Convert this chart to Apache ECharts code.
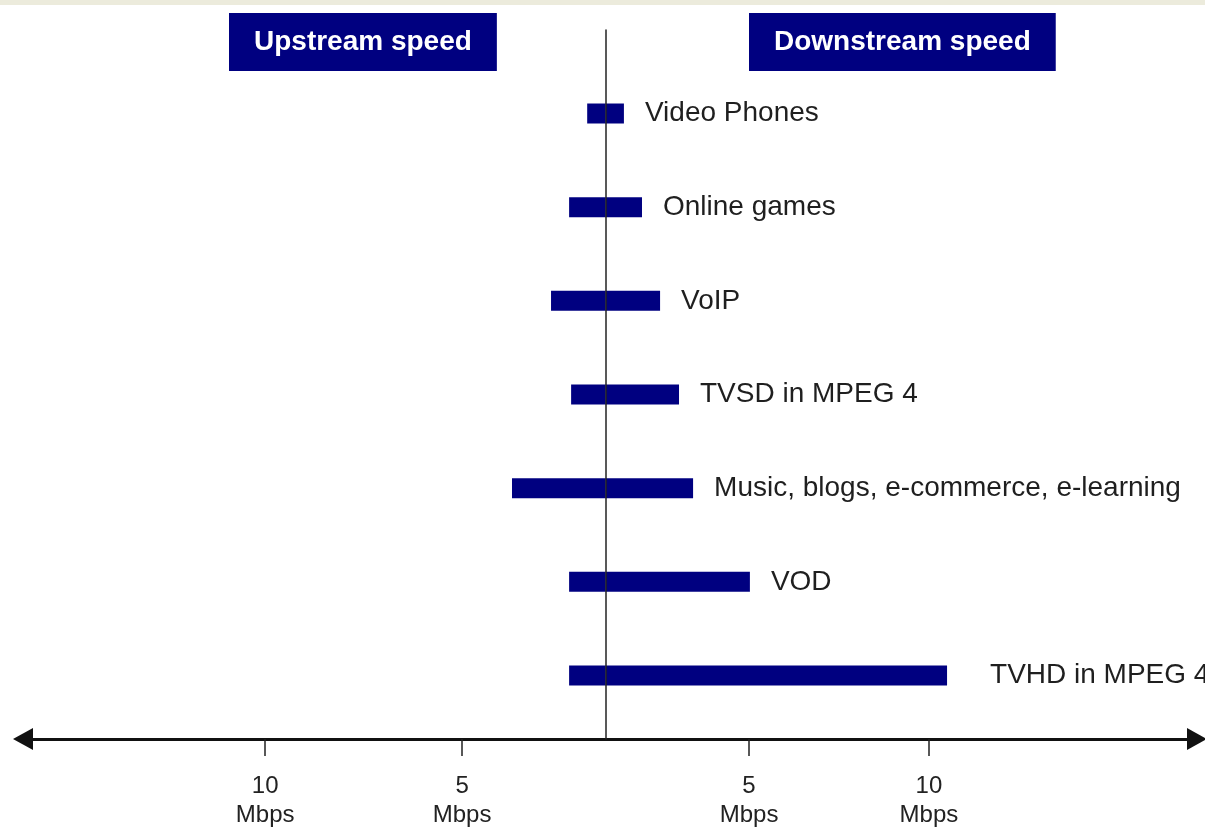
<!DOCTYPE html>
<html>
<head>
<meta charset="utf-8">
<title>Upstream / downstream speed</title>
<script src="https://cdn.jsdelivr.net/npm/echarts@6/dist/echarts.min.js"></script>
<style>
  html, body { margin: 0; padding: 0; background: #fff; }
  #main { width: 1205px; height: 830px; }
</style>
</head>
<body>
<div id="main"></div>
<script>
  // services, top to bottom
  var services = ['Video Phones', 'Online games', 'VoIP', 'TVSD in MPEG 4',
    'Music, blogs, e-commerce, e-learning', 'VOD', 'TVHD in MPEG 4'];

  // upstream to the left (negative), downstream to the right, in the drawing's axis units
  var upstream = [-0.64, -1.27, -1.90, -1.20, -3.26, -1.27, -1.27];
  var downstream = [0.64, 1.27, 1.90, 2.56, 3.05, 5.03, 11.9];

  // tick marks of the drawing (it is not a linear scale) and their labels
  var tickValues = [-11.86, -5, 5, 11.27];
  var tickLabels = ['10', '5', '5', '10'];

  var axisMin = -20.3;
  var axisMax = 20.61;

  var font = 'Liberation Sans, Arial, sans-serif';
  var navy = '#000080';

  var chart = echarts.init(document.getElementById('main'), null, { renderer: 'canvas' });

  var option = {
    animation: false,
    backgroundColor: '#fff',
    graphic: [
      // the textured strip at the very top of the slide
      { type: 'rect', left: 0, top: 0, shape: { width: 1205, height: 5 }, style: { fill: '#ecebdc' } }
    ],
    title: [
      {
        text: 'Upstream speed', left: 229, top: 13,
        backgroundColor: navy, padding: [15, 25],
        textStyle: { color: '#fff', fontSize: 28, fontWeight: 'bold', fontFamily: font, lineHeight: 28 }
      },
      {
        text: 'Downstream speed', left: 749, top: 13,
        backgroundColor: navy, padding: [15, 25],
        textStyle: { color: '#fff', fontSize: 28, fontWeight: 'bold', fontFamily: font, lineHeight: 28 }
      }
    ],
    grid: [
      // bars
      { left: 23, right: 8, top: 66.67, bottom: 107.67 },
      // frame: arrow axis + centre line
      { left: 23, right: 8, top: 30, bottom: 91 }
    ],
    xAxis: [
      { gridIndex: 0, type: 'value', min: axisMin, max: axisMax, show: false },
      {
        gridIndex: 1, type: 'value', min: axisMin, max: axisMax,
        splitLine: { show: false },
        axisLine: {
          show: true, onZero: false,
          symbol: ['triangle', 'triangle'], symbolSize: [22, 20],
          lineStyle: { color: '#111', width: 3 }
        },
        axisTick: { show: true, customValues: tickValues, length: 17, lineStyle: { color: '#222', width: 1.5 } },
        axisLabel: {
          customValues: tickValues, margin: 33,
          color: '#222', fontSize: 24, lineHeight: 29, fontFamily: font, align: 'center',
          formatter: function (v) {
            var i = tickValues.indexOf(v);
            return (i < 0 ? '' : tickLabels[i]) + '\nMbps';
          }
        }
      }
    ],
    yAxis: [
      { gridIndex: 0, type: 'category', inverse: true, data: services, show: false },
      {
        // centre line, drawn over the bars
        gridIndex: 1, type: 'value', min: 0, max: 1, z: 5,
        splitLine: { show: false }, axisTick: { show: false }, axisLabel: { show: false },
        axisLine: { show: true, onZero: true, lineStyle: { color: '#222', width: 1.5 } }
      }
    ],
    series: [
      {
        name: 'Upstream',
        type: 'bar', stack: 'speed', xAxisIndex: 0, yAxisIndex: 0,
        barWidth: 20, itemStyle: { color: navy },
        data: upstream
      },
      {
        name: 'Downstream',
        type: 'bar', stack: 'speed', xAxisIndex: 0, yAxisIndex: 0,
        barWidth: 20, itemStyle: { color: navy },
        label: {
          show: true, position: 'right', distance: 21, formatter: '{b}',
          color: '#1f1f1f', fontSize: 28, fontFamily: font
        },
        data: downstream.map(function (v, i) {
          // the TVHD label sits further from its bar
          if (services[i] === 'TVHD in MPEG 4') {
            return { value: v, label: { distance: 43 } };
          }
          return v;
        })
      }
    ]
  };

  chart.setOption(option);
</script>
</body>
</html>
